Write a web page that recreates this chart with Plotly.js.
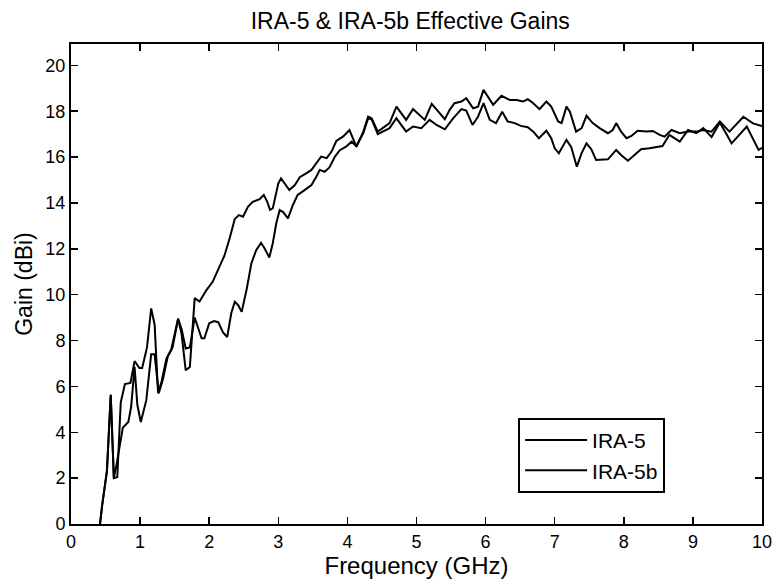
<!DOCTYPE html>
<html>
<head>
<meta charset="utf-8">
<script src="https://cdn.plot.ly/plotly-3.0.1.min.js"></script>
<style>html,body{margin:0;padding:0;background:#fff;}#chart{width:774px;height:583px;}</style>
</head>
<body>
<div id="chart"></div>
<script>
var seriesNames = ["IRA-5", "IRA-5b"];

var freqA = [0.42,0.45,0.52,0.575,0.62,0.67,0.72,0.78,0.86,0.92,0.99,1.03,1.1,1.16,1.21,1.26,1.31,1.38,1.45,1.55,1.6,1.66,1.72,1.79,1.86,1.96,2.05,2.15,2.22,2.3,2.37,2.43,2.49,2.56,2.63,2.73,2.79,2.84,2.88,2.92,3.0,3.04,3.12,3.16,3.24,3.31,3.41,3.48,3.55,3.62,3.7,3.77,3.84,3.94,4.03,4.13,4.23,4.3,4.35,4.44,4.51,4.61,4.71,4.78,4.85,4.95,5.02,5.12,5.22,5.31,5.41,5.48,5.55,5.65,5.72,5.82,5.89,5.97,6.03,6.11,6.23,6.35,6.45,6.54,6.61,6.69,6.78,6.88,6.95,7.05,7.1,7.17,7.22,7.31,7.39,7.46,7.55,7.65,7.77,7.84,7.89,7.96,8.04,8.11,8.2,8.33,8.42,8.52,8.59,8.69,8.81,8.93,9.05,9.15,9.27,9.39,9.53,9.73,9.87,10.0];
var gainA = [0,0.8,2.3,5.65,2.0,2.05,5.3,6.1,6.15,7.1,6.8,6.8,7.7,9.4,8.7,5.7,6.2,7.2,7.6,8.95,8.3,6.7,6.85,9.85,9.7,10.2,10.56,11.2,11.7,12.5,13.3,13.47,13.4,13.83,14.05,14.16,14.35,14.05,13.7,13.76,14.85,15.07,14.7,14.56,14.78,15.12,15.3,15.44,15.73,16.02,15.95,16.24,16.7,16.9,17.18,16.45,17.1,17.76,17.69,17.11,17.26,17.48,18.2,17.91,17.62,18.09,17.91,17.62,18.32,17.98,17.65,18.06,18.35,18.42,18.57,18.13,18.2,18.93,18.64,18.28,18.67,18.49,18.49,18.42,18.52,18.35,18.09,18.42,18.2,17.55,17.48,18.2,17.98,17.11,17.26,17.8,17.48,17.26,17.04,17.18,17.48,17.11,16.82,16.92,17.15,17.11,17.14,16.97,16.89,17.18,17.04,17.11,17.11,17.18,17.11,17.55,17.11,17.76,17.47,17.35];

var freqB = [0.42,0.45,0.52,0.575,0.62,0.66,0.75,0.83,0.87,0.92,0.96,1.01,1.09,1.16,1.21,1.27,1.33,1.4,1.47,1.55,1.6,1.66,1.72,1.79,1.89,1.93,2.0,2.07,2.13,2.2,2.26,2.32,2.37,2.42,2.47,2.54,2.61,2.68,2.75,2.8,2.87,2.92,2.97,3.02,3.07,3.14,3.21,3.28,3.38,3.48,3.55,3.6,3.67,3.74,3.82,3.89,3.98,4.06,4.13,4.23,4.3,4.35,4.44,4.54,4.61,4.71,4.85,4.95,5.07,5.19,5.29,5.41,5.53,5.65,5.72,5.81,5.89,5.97,6.06,6.15,6.24,6.32,6.42,6.51,6.61,6.69,6.77,6.88,6.95,7.0,7.06,7.17,7.24,7.32,7.39,7.46,7.53,7.6,7.7,7.77,7.89,7.96,8.06,8.16,8.25,8.37,8.49,8.56,8.66,8.81,8.93,9.05,9.15,9.27,9.39,9.56,9.78,9.95,10.0];
var gainB = [0,0.8,2.3,5.6,2.0,2.6,4.2,4.45,5.1,6.85,5.2,4.45,5.4,7.4,7.4,5.7,6.3,7.3,7.7,8.95,8.5,7.65,7.7,9.0,8.1,8.1,8.75,8.85,8.8,8.35,8.15,9.2,9.69,9.54,9.25,10.2,11.36,11.94,12.26,12.02,11.62,12.24,13.1,13.69,13.6,13.33,13.9,14.35,14.56,14.78,15.14,15.44,15.36,15.55,16.02,16.3,16.45,16.67,16.48,17.04,17.69,17.65,17.0,17.15,17.26,17.69,17.11,17.33,17.26,17.62,17.4,17.21,17.69,18.09,18.03,17.4,17.76,18.35,17.62,17.48,17.98,17.55,17.48,17.36,17.3,17.11,16.82,17.15,16.82,16.38,16.17,16.75,16.43,15.58,16.17,16.6,16.34,15.87,15.87,15.9,16.31,16.09,15.84,16.09,16.34,16.38,16.43,16.48,16.97,16.67,17.18,17.04,17.26,16.87,17.51,16.6,17.33,16.31,16.4];

var xTicks = [0,1,2,3,4,5,6,7,8,9,10];
var yTicks = [0,2,4,6,8,10,12,14,16,18,20];

var fontFam = "Liberation Sans, Arial, sans-serif";

var traces = [
  {x: freqA, y: gainA, name: seriesNames[0], type: "scatter", mode: "lines",
   line: {color: "#000", width: 2}},
  {x: freqB, y: gainB, name: seriesNames[1], type: "scatter", mode: "lines",
   line: {color: "#000", width: 2}}
];

var axisCommon = {
  showline: true, linecolor: "#000", linewidth: 2, mirror: "ticks",
  ticks: "inside", ticklen: 7, tickwidth: 1.5, tickcolor: "#000",
  showgrid: false, zeroline: false,
  tickfont: {family: fontFam, size: 18, color: "#000"}
};

var layout = {
  width: 774, height: 583,
  margin: {l: 71, r: 12, t: 44, b: 59},
  paper_bgcolor: "#fff", plot_bgcolor: "#fff",
  font: {family: fontFam, color: "#000"},
  title: {text: "IRA-5 & IRA-5b Effective Gains", font: {family: fontFam, size: 23, color: "#000"},
          x: 0.53, xanchor: "center", y: 0.978, yanchor: "top"},
  xaxis: Object.assign({}, axisCommon, {
    range: [0, 10], tickvals: xTicks, ticktext: xTicks.map(String),
    title: {text: "Frequency (GHz)", font: {family: fontFam, size: 24, color: "#000"}, standoff: 3}
  }),
  yaxis: Object.assign({}, axisCommon, {
    range: [0, 20.93], tickvals: yTicks, ticktext: yTicks.map(String),
    title: {text: "Gain (dBi)", font: {family: fontFam, size: 23, color: "#000"}, standoff: 6}
  }),
  showlegend: true,
  legend: {x: 0.647, y: 0.221, xanchor: "left", yanchor: "top",
           bordercolor: "#000", borderwidth: 2, bgcolor: "#fff",
           font: {family: fontFam, size: 21, color: "#000"},
           itemwidth: 62, tracegroupgap: 0}
};

Plotly.newPlot("chart", traces, layout, {displayModeBar: false, staticPlot: true});
</script>
</body>
</html>
